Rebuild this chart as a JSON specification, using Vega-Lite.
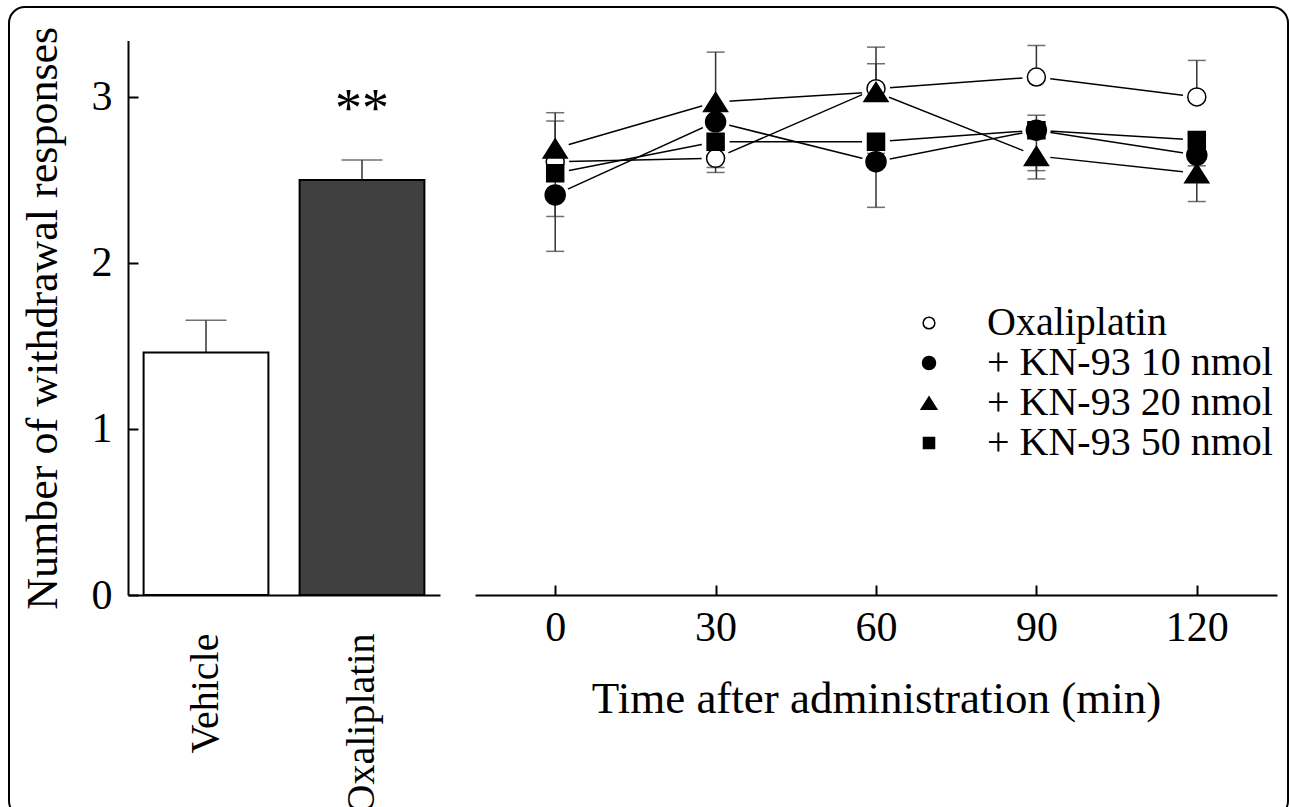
{
  "$schema": "https://vega.github.io/schema/vega-lite/v6.json",
  "width": 1279,
  "height": 810,
  "autosize": {"type": "none"},
  "padding": {"left": 9, "top": 7, "right": 2, "bottom": 0},
  "background": "white",
  "config": {
    "view": {"stroke": "black", "strokeWidth": 2, "cornerRadius": 16, "fill": "white"},
    "font": "Liberation Serif",
    "axis": {"labelFont": "Liberation Serif", "titleFont": "Liberation Serif", "labelColor": "black", "titleColor": "black", "titleFontWeight": "normal", "domainColor": "black", "tickColor": "black", "grid": false, "domainWidth": 2, "tickWidth": 2},
    "text": {"font": "Liberation Serif"}
  },
  "datasets": {
    "bars": [
      {"group": "Vehicle", "mean": 1.46, "end": 1.655, "sig": ""},
      {"group": "Oxaliplatin", "mean": 2.50, "end": 2.62, "sig": "**"}
    ],
    "time": [
      {"series": "Oxaliplatin", "time": 0, "mean": 2.61, "end": 2.855},
      {"series": "Oxaliplatin", "time": 30, "mean": 2.63, "end": 2.545},
      {"series": "Oxaliplatin", "time": 60, "mean": 3.05, "end": 3.30},
      {"series": "Oxaliplatin", "time": 90, "mean": 3.12, "end": 3.31},
      {"series": "Oxaliplatin", "time": 120, "mean": 3.00, "end": 3.22},
      {"series": "+ KN-93 10 nmol", "time": 0, "mean": 2.41, "end": 2.07},
      {"series": "+ KN-93 10 nmol", "time": 30, "mean": 2.85, "end": 2.93},
      {"series": "+ KN-93 10 nmol", "time": 60, "mean": 2.61, "end": 2.335},
      {"series": "+ KN-93 10 nmol", "time": 90, "mean": 2.80, "end": 2.556},
      {"series": "+ KN-93 10 nmol", "time": 120, "mean": 2.65, "end": 2.585},
      {"series": "+ KN-93 20 nmol", "time": 0, "mean": 2.69, "end": 2.905},
      {"series": "+ KN-93 20 nmol", "time": 30, "mean": 2.97, "end": 3.27},
      {"series": "+ KN-93 20 nmol", "time": 60, "mean": 3.03, "end": 3.20},
      {"series": "+ KN-93 20 nmol", "time": 90, "mean": 2.645, "end": 2.506},
      {"series": "+ KN-93 20 nmol", "time": 120, "mean": 2.54, "end": 2.37},
      {"series": "+ KN-93 50 nmol", "time": 0, "mean": 2.54, "end": 2.28},
      {"series": "+ KN-93 50 nmol", "time": 30, "mean": 2.73, "end": 2.575},
      {"series": "+ KN-93 50 nmol", "time": 60, "mean": 2.73, "end": 2.66},
      {"series": "+ KN-93 50 nmol", "time": 90, "mean": 2.80, "end": 2.89},
      {"series": "+ KN-93 50 nmol", "time": 120, "mean": 2.74, "end": 2.78}
    ]
  },
  "layer": [
    {
      "data": {"name": "bars"},
      "layer": [
        {
          "mark": {"type": "rule", "color": "#333333", "strokeWidth": 1.5},
          "encoding": {
            "x": {"field": "group", "type": "nominal", "sort": ["Vehicle", "Oxaliplatin"], "scale": {"type": "band", "range": [119, 431], "paddingInner": 0.2, "paddingOuter": 0.1}, "axis": {"orient": "bottom", "offset": -222, "title": null, "labelAngle": -90, "labelAlign": "right", "labelBaseline": "middle", "labelPadding": 38, "ticks": false, "labelFont": "Liberation Serif", "labelFontSize": 40, "labelLimit": 400}},
            "y": {"field": "mean", "type": "quantitative", "title": "Number of withdrawal responses", "scale": {"domain": [0, 3.34], "range": [588, 33.5], "nice": false}, "axis": {"orient": "left", "offset": -119, "values": [0, 1, 2, 3], "tickSize": -10, "labelFont": "Liberation Serif", "labelFontSize": 42, "labelPadding": 26, "titleFont": "Liberation Serif", "titleFontSize": 44, "titlePadding": 26}},
            "y2": {"field": "end"}
          }
        },
        {
          "mark": {"type": "tick", "color": "#333333", "thickness": 1.5, "size": 41, "orient": "horizontal"},
          "encoding": {
            "x": {"field": "group", "type": "nominal", "sort": ["Vehicle", "Oxaliplatin"], "scale": {"type": "band", "range": [119, 431], "paddingInner": 0.2, "paddingOuter": 0.1}, "axis": {"orient": "bottom", "offset": -222, "title": null, "labelAngle": -90, "labelAlign": "right", "labelBaseline": "middle", "labelPadding": 38, "ticks": false, "labelFont": "Liberation Serif", "labelFontSize": 40, "labelLimit": 400}},
            "y": {"field": "end", "type": "quantitative", "title": "Number of withdrawal responses", "scale": {"domain": [0, 3.34], "range": [588, 33.5], "nice": false}, "axis": {"orient": "left", "offset": -119, "values": [0, 1, 2, 3], "tickSize": -10, "labelFont": "Liberation Serif", "labelFontSize": 42, "labelPadding": 26, "titleFont": "Liberation Serif", "titleFontSize": 44, "titlePadding": 26}}
          }
        },
        {
          "mark": {"type": "bar", "stroke": "black", "strokeWidth": 2},
          "encoding": {
            "x": {"field": "group", "type": "nominal", "sort": ["Vehicle", "Oxaliplatin"], "scale": {"type": "band", "range": [119, 431], "paddingInner": 0.2, "paddingOuter": 0.1}, "axis": {"orient": "bottom", "offset": -222, "title": null, "labelAngle": -90, "labelAlign": "right", "labelBaseline": "middle", "labelPadding": 38, "ticks": false, "labelFont": "Liberation Serif", "labelFontSize": 40, "labelLimit": 400}},
            "y": {"field": "mean", "type": "quantitative", "title": "Number of withdrawal responses", "scale": {"domain": [0, 3.34], "range": [588, 33.5], "nice": false}, "axis": {"orient": "left", "offset": -119, "values": [0, 1, 2, 3], "tickSize": -10, "labelFont": "Liberation Serif", "labelFontSize": 42, "labelPadding": 26, "titleFont": "Liberation Serif", "titleFontSize": 44, "titlePadding": 26}},
            "color": {"field": "group", "type": "nominal", "scale": {"domain": ["Vehicle", "Oxaliplatin"], "range": ["#ffffff", "#404040"]}, "legend": null}
          }
        },
        {
          "mark": {"type": "text", "font": "Liberation Serif", "fontSize": 54, "baseline": "alphabetic", "dy": -54, "color": "black"},
          "encoding": {
            "x": {"field": "group", "type": "nominal", "sort": ["Vehicle", "Oxaliplatin"], "scale": {"type": "band", "range": [119, 431], "paddingInner": 0.2, "paddingOuter": 0.1}, "axis": {"orient": "bottom", "offset": -222, "title": null, "labelAngle": -90, "labelAlign": "right", "labelBaseline": "middle", "labelPadding": 38, "ticks": false, "labelFont": "Liberation Serif", "labelFontSize": 40, "labelLimit": 400}},
            "y": {"field": "mean", "type": "quantitative", "title": "Number of withdrawal responses", "scale": {"domain": [0, 3.34], "range": [588, 33.5], "nice": false}, "axis": {"orient": "left", "offset": -119, "values": [0, 1, 2, 3], "tickSize": -10, "labelFont": "Liberation Serif", "labelFontSize": 42, "labelPadding": 26, "titleFont": "Liberation Serif", "titleFontSize": 44, "titlePadding": 26}},
            "text": {"field": "sig"}
          }
        }
      ]
    },
    {
      "data": {"name": "time"},
      "encoding": {
        "x": {"field": "time", "type": "quantitative", "scale": {"domain": [-15, 135], "range": [466, 1268], "nice": false, "zero": false}, "axis": {"orient": "bottom", "offset": -222, "values": [0, 30, 60, 90, 120], "tickSize": -10, "labelFont": "Liberation Serif", "labelFontSize": 42, "labelPadding": 22, "title": "Time after administration (min)", "titleFont": "Liberation Serif", "titleFontSize": 45, "titlePadding": 28}}
      },
      "layer": [
        {
          "mark": {"type": "line", "color": "black", "strokeWidth": 1.5},
          "encoding": {
            "y": {"field": "mean", "type": "quantitative", "title": "Number of withdrawal responses", "scale": {"domain": [0, 3.34], "range": [588, 33.5], "nice": false}, "axis": {"orient": "left", "offset": -119, "values": [0, 1, 2, 3], "tickSize": -10, "labelFont": "Liberation Serif", "labelFontSize": 42, "labelPadding": 26, "titleFont": "Liberation Serif", "titleFontSize": 44, "titlePadding": 26}},
            "detail": {"field": "series", "type": "nominal"}
          }
        },
        {
          "mark": {"type": "point", "shape": "circle", "filled": true, "size": 784, "color": "white", "opacity": 1, "strokeWidth": 0},
          "encoding": {
            "y": {"field": "mean", "type": "quantitative", "title": "Number of withdrawal responses", "scale": {"domain": [0, 3.34], "range": [588, 33.5], "nice": false}, "axis": {"orient": "left", "offset": -119, "values": [0, 1, 2, 3], "tickSize": -10, "labelFont": "Liberation Serif", "labelFontSize": 42, "labelPadding": 26, "titleFont": "Liberation Serif", "titleFontSize": 44, "titlePadding": 26}}
          }
        },
        {
          "mark": {"type": "rule", "color": "#333333", "strokeWidth": 1.5},
          "encoding": {
            "y": {"field": "mean", "type": "quantitative", "title": "Number of withdrawal responses", "scale": {"domain": [0, 3.34], "range": [588, 33.5], "nice": false}, "axis": {"orient": "left", "offset": -119, "values": [0, 1, 2, 3], "tickSize": -10, "labelFont": "Liberation Serif", "labelFontSize": 42, "labelPadding": 26, "titleFont": "Liberation Serif", "titleFontSize": 44, "titlePadding": 26}},
            "y2": {"field": "end"}
          }
        },
        {
          "mark": {"type": "tick", "color": "#333333", "thickness": 1.5, "size": 18, "orient": "horizontal"},
          "encoding": {
            "y": {"field": "end", "type": "quantitative", "title": "Number of withdrawal responses", "scale": {"domain": [0, 3.34], "range": [588, 33.5], "nice": false}, "axis": {"orient": "left", "offset": -119, "values": [0, 1, 2, 3], "tickSize": -10, "labelFont": "Liberation Serif", "labelFontSize": 42, "labelPadding": 26, "titleFont": "Liberation Serif", "titleFontSize": 44, "titlePadding": 26}}
          }
        },
        {
          "mark": {"type": "point", "filled": true, "size": 400, "stroke": "black", "strokeWidth": 1.5, "opacity": 1},
          "encoding": {
            "y": {"field": "mean", "type": "quantitative", "title": "Number of withdrawal responses", "scale": {"domain": [0, 3.34], "range": [588, 33.5], "nice": false}, "axis": {"orient": "left", "offset": -119, "values": [0, 1, 2, 3], "tickSize": -10, "labelFont": "Liberation Serif", "labelFontSize": 42, "labelPadding": 26, "titleFont": "Liberation Serif", "titleFontSize": 44, "titlePadding": 26}},
            "shape": {
              "field": "series", "type": "nominal",
              "scale": {
                "domain": ["Oxaliplatin", "+ KN-93 10 nmol", "+ KN-93 20 nmol", "+ KN-93 50 nmol"],
                "range": [
                  "M-0.9,0C-0.9,-0.497,-0.497,-0.9,0,-0.9C0.497,-0.9,0.9,-0.497,0.9,0C0.9,0.497,0.497,0.9,0,0.9C-0.497,0.9,-0.9,0.497,-0.9,0Z",
                  "circle",
                  "M0,-0.95L1.2,0.95L-1.2,0.95Z",
                  "M-0.85,-0.85H0.85V0.85H-0.85Z"
                ]
              },
              "legend": {
                "orient": "none", "legendX": 871, "legendY": 296, "title": null, "padding": 0,
                "labelFont": "Liberation Serif", "labelFontSize": 40, "labelColor": "black", "labelLimit": 500,
                "symbolSize": 169, "symbolStrokeWidth": 1.5, "symbolOffset": 29, "labelOffset": 38, "rowPadding": 0
              }
            },
            "fill": {
              "field": "series", "type": "nominal",
              "scale": {"domain": ["Oxaliplatin", "+ KN-93 10 nmol", "+ KN-93 20 nmol", "+ KN-93 50 nmol"], "range": ["#ffffff", "#000000", "#000000", "#000000"]},
              "legend": {
                "orient": "none", "legendX": 871, "legendY": 296, "title": null, "padding": 0,
                "labelFont": "Liberation Serif", "labelFontSize": 40, "labelColor": "black", "labelLimit": 500,
                "symbolSize": 169, "symbolStrokeWidth": 1.5, "symbolOffset": 29, "labelOffset": 38, "rowPadding": 0
              }
            }
          }
        }
      ]
    }
  ],
  "resolve": {"scale": {"x": "independent"}, "axis": {"x": "independent"}}
}
